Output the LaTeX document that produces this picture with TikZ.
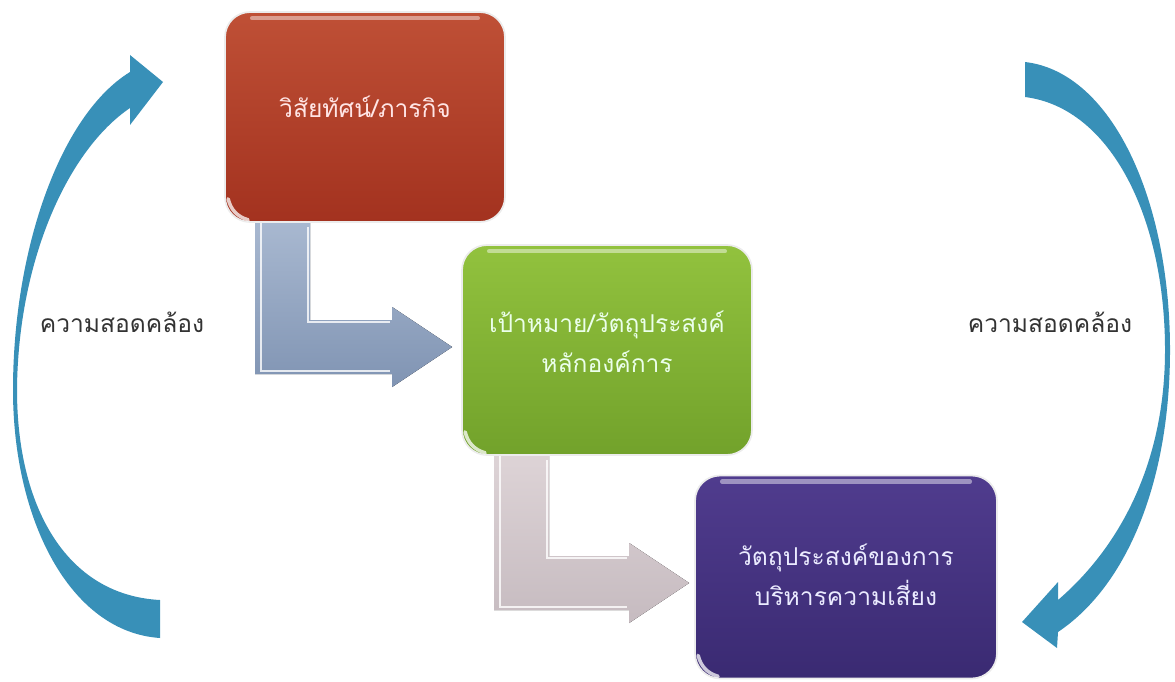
\documentclass[tikz,border=0pt]{standalone}
\usepackage{fontspec}
\newfontfamily\thaifont[Script=Thai]{Loma}
\usetikzlibrary{calc}
\usetikzlibrary{arrows.meta, positioning, shapes.geometric}

\definecolor{redtop}{HTML}{BF5036}
\definecolor{redbot}{HTML}{A3321F}
\definecolor{greentop}{HTML}{92C23E}
\definecolor{greenbot}{HTML}{72A22B}
\definecolor{purptop}{HTML}{503C8E}
\definecolor{purpbot}{HTML}{3A2A72}
\definecolor{swoosh}{HTML}{3890B8}
\definecolor{steeltop}{HTML}{A8B8D0}
\definecolor{steelbot}{HTML}{8094B3}
\definecolor{pinktop}{HTML}{DDD3D6}
\definecolor{pinkbot}{HTML}{C6BBC0}

\pgfdeclarelayer{background}
\pgfsetlayers{background,main}

% L-shaped block arrow: #1 top-left of stem, #2 tip
\newcommand{\elbowarrow}[3]{%
  \fill[#3] (#1) -- ++(55,0) |- ($(#2)+(-60,-27)$) -- ++(0,-13) -- (#2)
     -- ++(-60,40) -- ++(0,-13) -| (#1) -- cycle;
  \draw[white, opacity=.8, line width=1.2pt] ($(#1)+(53,4)$) |- ($(#2)+(-62,-25)$);
  \draw[white, opacity=.8, line width=1.2pt] ($(#1)+(6,0)$) |- ($(#2)+(-62,24)$);
}

\begin{document}
\begin{tikzpicture}[x=0.02cm, y=-0.02cm,
    every node/.style={font=\thaifont\fontsize{14}{22.7}\selectfont},
    box/.style={rounded corners=0.5cm, draw=white!85!gray, line width=1pt,
        inner sep=0pt},
    boxtext/.style={align=center, inner sep=0pt},
    sidelabel/.style={text=black!80}]
  \useasboundingbox (0,0) rectangle (1175,682);

  % boxes
  \node[box, minimum width=5.6cm, minimum height=4.2cm,
        top color=redtop, bottom color=redbot] (vision) at (365,117) {};
  \node[box, minimum width=5.8cm, minimum height=4.2cm,
        top color=greentop, bottom color=greenbot] (goal) at (607,350) {};
  \node[box, minimum width=6.04cm, minimum height=4.06cm,
        top color=purptop, bottom color=purpbot] (risk) at (846,577) {};

  \node[boxtext, text=red!10!white] (visiontext) at ($(vision)+(0,-10)$)
        {วิสัยทัศน์/ภารกิจ};
  \node[boxtext, text=green!8!white] (goaltext) at ($(goal)+(0,-8)$)
        {เป้าหมาย/วัตถุประสงค์\\หลักองค์การ};
  \node[boxtext, text=blue!8!white] (risktext) at ($(risk)+(0,-2)$)
        {วัตถุประสงค์ของการ\\บริหารความเสี่ยง};

  % elbow arrows between the boxes
  \coordinate (s1) at ($(vision.south west)+(31,0)$);
  \coordinate (t1) at ($(goal.west)+(-9,-3)$);
  \coordinate (s2) at ($(goal.south west)+(33,0)$);
  \coordinate (t2) at ($(risk.west)+(-5,6)$);
  \begin{pgfonlayer}{background}
    \elbowarrow{s1}{t1}{top color=steeltop, bottom color=steelbot}
    \elbowarrow{s2}{t2}{top color=pinktop, bottom color=pinkbot}
  \end{pgfonlayer}

  % gloss
  \foreach \b in {vision,goal,risk} {
    \draw[white, opacity=.45, line width=2.5pt, line cap=round]
      ($(\b.north west)+(28,7)$) -- ($(\b.north east)+(-28,7)$);
    \draw[white, opacity=.75, line width=2pt, line cap=round]
      ($(\b.south west)+(4,-24)$) to[bend right=30] ($(\b.south west)+(24,-3)$);
  }

  % side labels
  \node[sidelabel] (lleft) at (122,322) {ความสอดคล้อง};
  \node[sidelabel] (lright) at (1050,322) {ความสอดคล้อง};

  % curved arrows
  \coordinate (lh) at (163,82);
  \fill[swoosh] (160,638) .. controls (70,632) and (13,520) .. (13,390)
     .. controls (13,250) and (60,115) .. (130,72) -- (130,55) -- (lh)
     -- (130,125) -- (130,108) .. controls (68,150) and (18,260) .. (17,390)
     .. controls (17,505) and (65,595) .. (160,600) -- cycle;
  \coordinate (rh) at (1022,622);
  \fill[swoosh] (1025,62) .. controls (1112,72) and (1170,200) .. (1170,350)
     .. controls (1170,480) and (1128,585) .. (1058,632) -- (1057,648) -- (rh)
     -- (1058,582) -- (1058,600) .. controls (1122,545) and (1165,460) .. (1165,350)
     .. controls (1165,220) and (1112,108) .. (1025,97) -- cycle;
\end{tikzpicture}
\end{document}
